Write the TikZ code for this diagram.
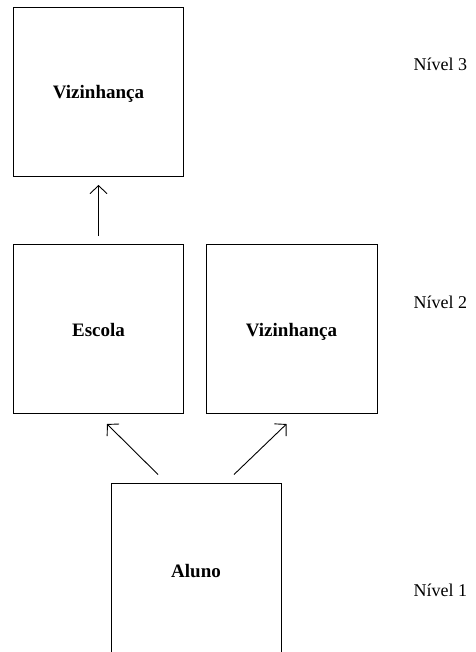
\documentclass[tikz,border=0pt]{standalone}
\usepackage{fontspec}
\setmainfont{Liberation Serif}
\usetikzlibrary{arrows.meta}
\begin{document}
\begin{tikzpicture}[x=1pt, y=-1pt,
  caixa/.style={draw, line width=1pt, minimum width=170pt, minimum height=169pt, text height=14pt, text depth=0pt, font=\fontsize{19}{22}\selectfont\bfseries},
  nivel/.style={anchor=west, font=\fontsize{18}{21}\selectfont},
  seta/.style={-{Straight Barb[length=8pt, width=17pt]}, line width=0.9pt}]
\useasboundingbox (0,0) rectangle (475,652);
\clip (0,0) rectangle (475,652);
\node[caixa] (viz3) at (98.5, 92) {Vizinhança};
\node[caixa] (escola) at (98.5, 329) {Escola};
\node[caixa, minimum width=171pt] (viz2) at (291.5, 329) {Vizinhança};
\node[caixa, minimum height=174pt] (aluno) at (196, 570) {Aluno};
\node[nivel] (nivel3) at (410, 64) {Nível 3};
\node[nivel] (nivel2) at (410, 302) {Nível 2};
\node[nivel] (nivel1) at (410, 590) {Nível 1};
\draw[seta, shorten <=8pt, shorten >=8pt] (escola) -- (viz3);
\draw[seta] ([xshift=-38pt, yshift=8pt]aluno.north) -- ([xshift=-77pt, yshift=-10pt]escola.south east);
\draw[seta] ([xshift=38pt, yshift=8pt]aluno.north) -- ([xshift=81pt, yshift=-10pt]viz2.south west);
\end{tikzpicture}
\end{document}
